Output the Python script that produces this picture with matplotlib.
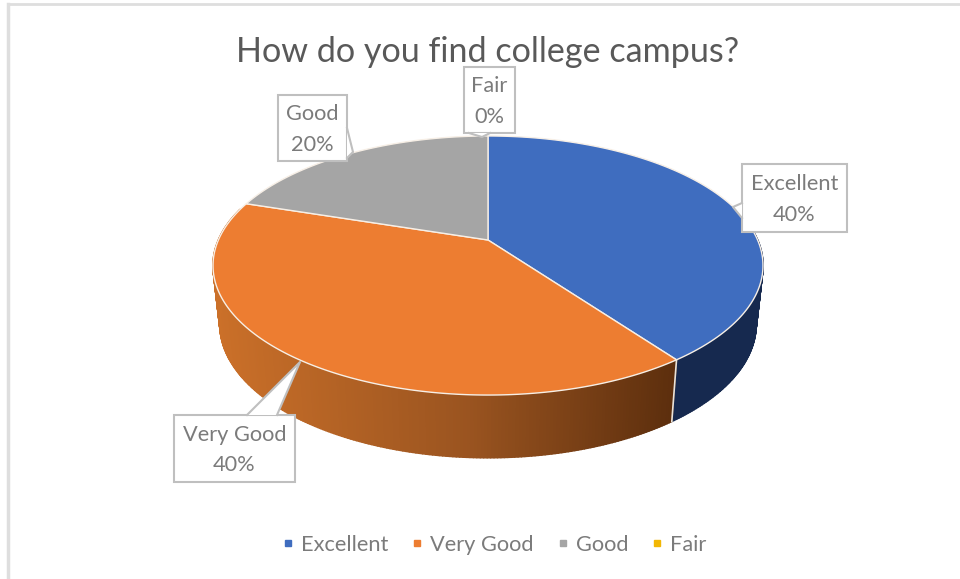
import numpy as np
import matplotlib
matplotlib.use("Agg")
import matplotlib.pyplot as plt
from matplotlib.patches import Polygon, Rectangle
from matplotlib.collections import PolyCollection
from matplotlib.colors import to_rgb
from matplotlib.lines import Line2D

plt.rcParams['font.family'] = ['Lato', 'DejaVu Sans']

title = "How do you find college campus?"
categories = ["Excellent", "Very Good", "Good", "Fair"]
values = [40, 40, 20, 0]
colors = ["#3F6DBF", "#ED7D31", "#A5A5A5", "#F2B705"]

fig = plt.figure(figsize=(9.6, 5.79), dpi=100, facecolor="white")
ax = fig.add_axes([0, 0, 1, 1])
ax.set_xlim(0, 960)
ax.set_ylim(579, 0)
ax.axis("off")

# projection of the pie circle
CX, CY, A, B, K = 488, 240, 269.6, 124.5, 0.197
SX, SY, DEPTH = 0.975, 1.03, 58


def top(theta):
    u, v = np.sin(theta), np.cos(theta)
    d = 1 + K * v
    return CX + A * u / d, CY - B * v / d


def bottom(theta):
    x, y = top(theta)
    return CX + (x - CX) * SX, CY + (y - CY) * SY + DEPTH


def wall_color(i, x):
    if i == 0:
        return to_rgb("#16294F")
    if i == 1:
        t = np.clip((x - 213) / (678 - 213), 0, 1)
        a, b, c = map(np.array, (to_rgb("#CB7029"), to_rgb("#9A5420"), to_rgb("#5C2E0D")))
        return tuple(a + (b - a) * t / .55) if t < .55 else tuple(b + (c - b) * (t - .55) / .45)
    return to_rgb("#6E6E6E")


fractions = np.cumsum([0] + values) / sum(values)
# side walls
for i, (f0, f1) in enumerate(zip(fractions[:-1], fractions[1:])):
    if f1 <= f0:
        continue
    th = np.linspace(f0, f1, 240) * 2 * np.pi
    tx, ty = top(th)
    bx, by = bottom(th)
    quads, cols = [], []
    for j in range(len(th) - 1):
        if np.cos(th[j]) > 0.25:
            continue
        quads.append([(tx[j], ty[j]), (tx[j + 1], ty[j + 1]), (bx[j + 1], by[j + 1]), (bx[j], by[j])])
        cols.append(wall_color(i, tx[j]))
    ax.add_collection(PolyCollection(quads, facecolors=cols, edgecolors=cols, linewidths=1.2, zorder=2))

# vertical seam between blue and orange walls
seam = fractions[1] * 2 * np.pi
sx0, sy0 = top(seam)
sx1, sy1 = bottom(seam)
ax.plot([sx0, sx1], [sy0, sy1], color="#E8E2DA", lw=1.2, zorder=2.5)

# top faces
for i, (f0, f1) in enumerate(zip(fractions[:-1], fractions[1:])):
    if f1 <= f0:
        continue
    th = np.linspace(f0, f1, 240) * 2 * np.pi
    tx, ty = top(th)
    pts = np.vstack([[CX, CY], np.column_stack([tx, ty])])
    ax.add_patch(Polygon(pts, closed=True, facecolor=colors[i], edgecolor="#F7EFE6",
                         lw=1.0, joinstyle="round", zorder=3))

# callouts: box (x0, y0, x1, y1) and pointer outline
boxes = {
    "Excellent": (742, 164, 847, 232),
    "Very Good": (174, 415, 295, 482),
    "Good": (278, 95, 347, 161),
    "Fair": (464, 67, 515, 133),
}
pointers = {
    "Excellent": [(742, 203), (733, 207), (742, 218)],
    "Very Good": [(247, 415), (300, 362), (277, 415)],
    "Good": [(347, 128), (353, 152), (347, 158)],
    "Fair": [(469, 133), (482, 137), (490, 133)],
}
for cat, val in zip(categories, values):
    x0, y0, x1, y1 = boxes[cat]
    ax.add_patch(Rectangle((x0, y0), x1 - x0, y1 - y0, facecolor="white", edgecolor="#BFBFBF", lw=1.5, zorder=4))
    p = pointers[cat]
    ax.add_patch(Polygon(p, closed=True, facecolor="white", edgecolor="none", zorder=4.1))
    ax.plot([q[0] for q in p], [q[1] for q in p], color="#BFBFBF", lw=1.5, zorder=4.2)
    ax.text((x0 + x1) / 2, (y0 + y1) / 2 + 1.5, f"{cat}\n{val}%", ha="center", va="center",
            fontsize=15.7, color="#7B7B7B", linespacing=1.68, zorder=5)

ax.text(488, 52, title, ha="center", va="center", fontsize=24.6, color="#595959", zorder=5)

# legend
handles = [Line2D([], [], linestyle="none", marker="s", markersize=4.5, color=c) for c in colors]
ax.legend(handles, categories, loc="center", bbox_to_anchor=(494.5 / 960, 1 - 545 / 579), ncol=4,
          frameon=False, fontsize=15.7, labelcolor="#7B7B7B", handlelength=0.5, handletextpad=0.35,
          columnspacing=1.08)

# frame: top and left edges of the original picture
ax.plot([8, 960], [4, 4], color="#DEDEDE", lw=2, zorder=1)
ax.plot([8, 8], [4, 579], color="#DEDEDE", lw=2.5, zorder=1)

fig.savefig("out.png", dpi=100, facecolor="white")
